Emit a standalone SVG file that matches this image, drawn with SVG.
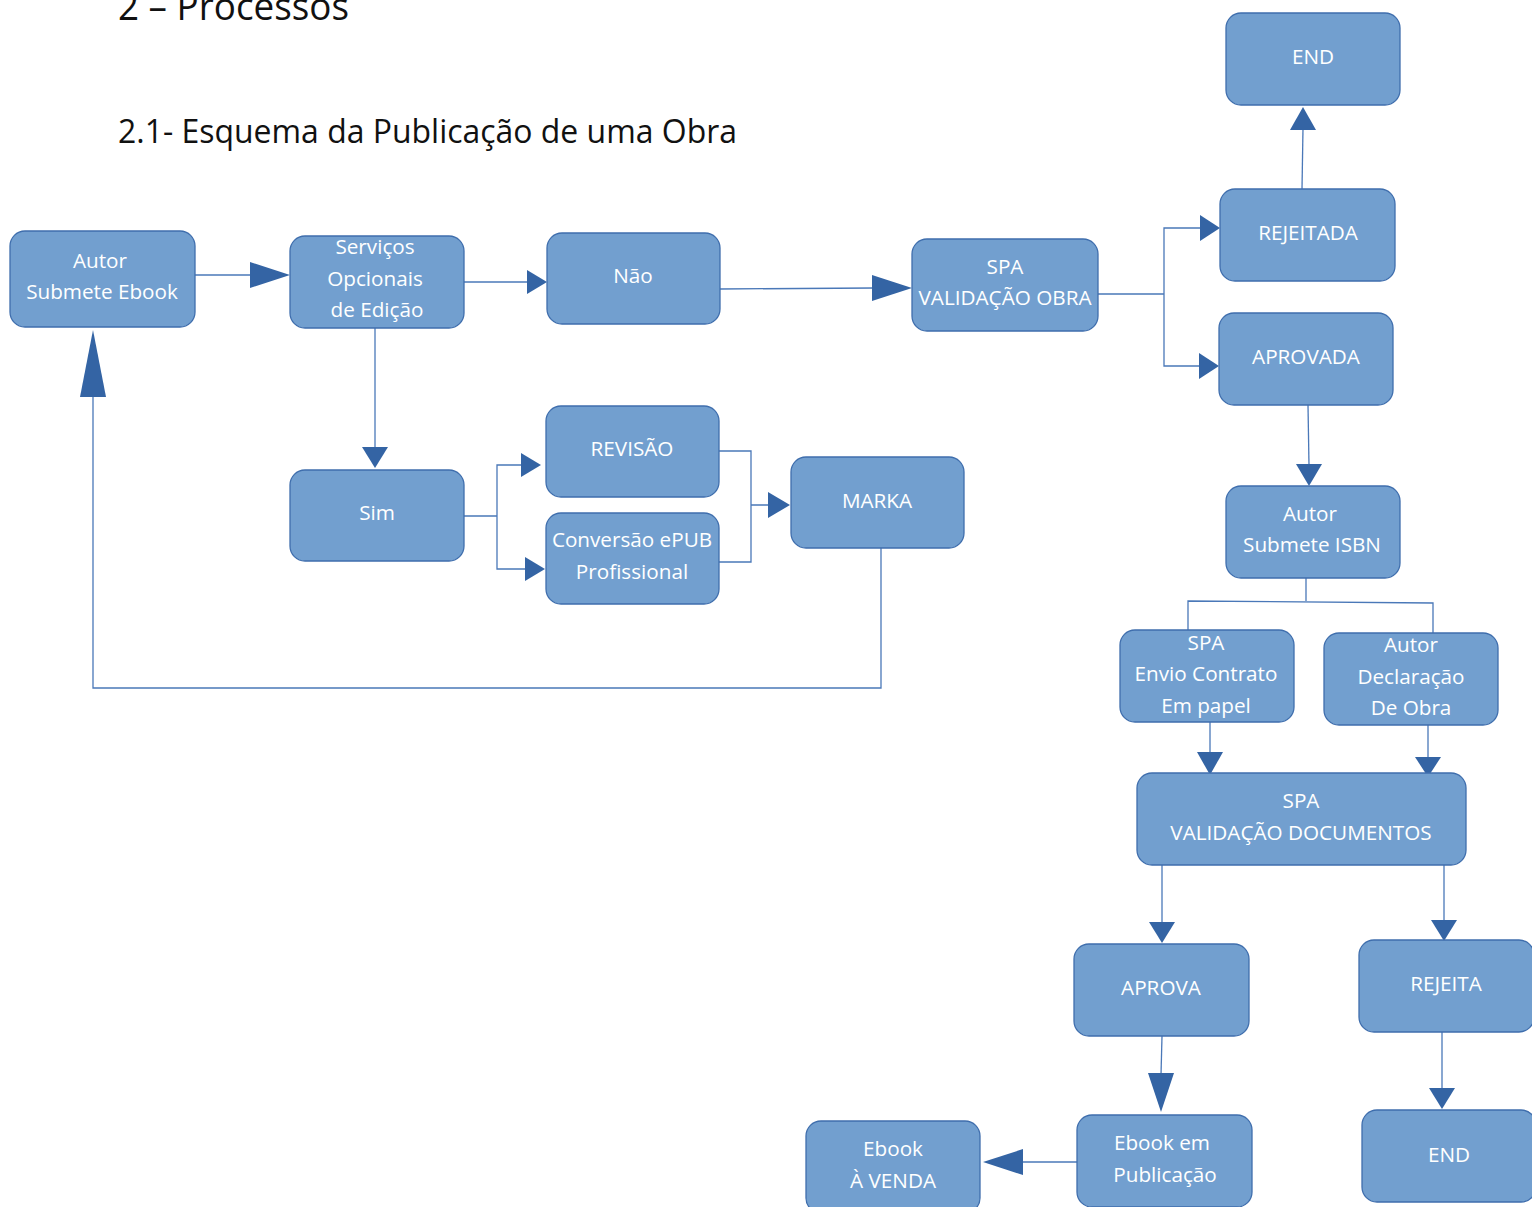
<svg xmlns="http://www.w3.org/2000/svg" width="1532" height="1207" viewBox="0 0 1532 1207">
<style>
.n rect{fill:#729fcf;stroke:#3f6ead;stroke-width:1.3}
.n text{fill:#ffffff;font-family:"Open Sans","Liberation Sans",sans-serif;font-size:20.7px;text-anchor:middle}
.c path{fill:none;stroke:#4a78b8;stroke-width:1.3}
.c polygon{fill:#3464a4}
.h{font-family:"Open Sans","Liberation Sans",sans-serif;fill:#111}
</style>
<rect width="1532" height="1207" fill="#ffffff"/>
<text class="h" x="118" y="20" font-size="38" textLength="231" lengthAdjust="spacingAndGlyphs">2 – Processos</text>
<text class="h" x="118" y="143" font-size="32" textLength="619" lengthAdjust="spacingAndGlyphs">2.1- Esquema da Publicação de uma Obra</text>

<g class="c" id="connectors">
<path d="M195,275H252"/><polygon points="250,262 290,275 250,288"/>
<path d="M464,282H528"/><polygon points="527,270 547,282 527,294"/>
<path d="M720,289L874,288"/><polygon points="872,275 912,288 872,301"/>
<path d="M1098,294H1164V228H1202M1164,294V366H1202"/><polygon points="1200,215 1220,228 1200,241"/><polygon points="1199,353 1219,366 1199,379"/>
<path d="M1302,189L1303,128"/><polygon points="1290,130 1303,107 1316,130"/>
<path d="M1308,405L1309,466"/><polygon points="1296,464 1309,486 1322,464"/>
<path d="M375,328V449"/><polygon points="362,447 375,468 388,447"/>
<path d="M464,516H497V465H522M497,516V569H526"/><polygon points="521,453 541,465 521,477"/><polygon points="525,557 545,569 525,581"/>
<path d="M719,451H751V562H719M751,505H770"/><polygon points="768,492 790,505 768,518"/>
<path d="M881,548V688H93V395"/><polygon points="80,397 93,330 106,397"/>
<path d="M1306,578V601M1188,630V601L1433,603V633"/>
<path d="M1210,722V754"/><polygon points="1197,752 1210,775 1223,752"/>
<path d="M1428,725V759"/><polygon points="1415,757 1428,777 1441,757"/>
<path d="M1162,865V924"/><polygon points="1149,922 1162,943 1175,922"/>
<path d="M1444,865V922"/><polygon points="1431,920 1444,941 1457,920"/>
<path d="M1162,1036L1161,1075"/><polygon points="1148,1073 1161,1112 1174,1073"/>
<path d="M1442,1032V1090"/><polygon points="1429,1088 1442,1109 1455,1088"/>
<path d="M1077,1162H1021"/><polygon points="1023,1149 983,1162 1023,1175"/>
</g>

<g class="n" id="autor-submete-ebook"><rect x="10" y="231" width="185" height="96" rx="15"/><text x="100" y="268">Autor</text><text x="102" y="299">Submete Ebook</text></g>
<g class="n" id="servicos"><rect x="290" y="236" width="174" height="92" rx="15"/><text x="375" y="254">Serviços</text><text x="375" y="286">Opcionais</text><text x="377" y="317">de Edição</text></g>
<g class="n" id="nao"><rect x="547" y="233" width="173" height="91" rx="15"/><text x="633" y="283">Não</text></g>
<g class="n" id="spa-validacao-obra"><rect x="912" y="239" width="186" height="92" rx="15"/><text x="1005" y="274">SPA</text><text x="1005" y="305">VALIDAÇÃO OBRA</text></g>
<g class="n" id="end-top"><rect x="1226" y="13" width="174" height="92" rx="15"/><text x="1313" y="64">END</text></g>
<g class="n" id="rejeitada"><rect x="1220" y="189" width="175" height="92" rx="15"/><text x="1308" y="240">REJEITADA</text></g>
<g class="n" id="aprovada"><rect x="1219" y="313" width="174" height="92" rx="15"/><text x="1306" y="364">APROVADA</text></g>
<g class="n" id="sim"><rect x="290" y="470" width="174" height="91" rx="15"/><text x="377" y="520">Sim</text></g>
<g class="n" id="revisao"><rect x="546" y="406" width="173" height="91" rx="15"/><text x="632" y="456">REVISÃO</text></g>
<g class="n" id="conversao"><rect x="546" y="513" width="173" height="91" rx="15"/><text x="632" y="547">Conversão ePUB</text><text x="632" y="579">Profissional</text></g>
<g class="n" id="marka"><rect x="791" y="457" width="173" height="91" rx="15"/><text x="877" y="508">MARKA</text></g>
<g class="n" id="autor-submete-isbn"><rect x="1226" y="486" width="174" height="92" rx="15"/><text x="1310" y="521">Autor</text><text x="1312" y="552">Submete ISBN</text></g>
<g class="n" id="spa-envio-contrato"><rect x="1120" y="630" width="174" height="92" rx="15"/><text x="1206" y="650">SPA</text><text x="1206" y="681">Envio Contrato</text><text x="1206" y="713">Em papel</text></g>
<g class="n" id="autor-declaracao"><rect x="1324" y="633" width="174" height="92" rx="15"/><text x="1411" y="652">Autor</text><text x="1411" y="684">Declaração</text><text x="1411" y="715">De Obra</text></g>
<g class="n" id="spa-validacao-documentos"><rect x="1137" y="773" width="329" height="92" rx="15"/><text x="1301" y="808">SPA</text><text x="1301" y="840">VALIDAÇÃO DOCUMENTOS</text></g>
<g class="n" id="aprova"><rect x="1074" y="944" width="175" height="92" rx="15"/><text x="1161" y="995">APROVA</text></g>
<g class="n" id="rejeita"><rect x="1359" y="940" width="175" height="92" rx="15"/><text x="1446" y="991">REJEITA</text></g>
<g class="n" id="ebook-em-publicacao"><rect x="1077" y="1115" width="175" height="92" rx="15"/><text x="1162" y="1150">Ebook em</text><text x="1165" y="1182">Publicação</text></g>
<g class="n" id="ebook-a-venda"><rect x="806" y="1121" width="174" height="92" rx="15"/><text x="893" y="1156">Ebook</text><text x="893" y="1188">À VENDA</text></g>
<g class="n" id="end-bottom"><rect x="1362" y="1110" width="174" height="92" rx="15"/><text x="1449" y="1162">END</text></g>
</svg>
